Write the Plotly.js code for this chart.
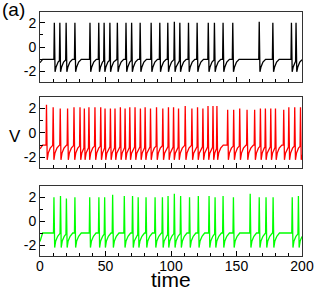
<!DOCTYPE html>
<html>
<head>
<meta charset="utf-8">
<script src="https://cdn.plot.ly/plotly-3.0.1.min.js"></script>
<style>html,body{margin:0;padding:0;background:#fff;}#chart{width:315px;height:291px;}</style>
</head>
<body>
<div id="chart"></div>
<script>
// ---- data ----
const xTickVals = [0, 50, 100, 150, 200];
const xTickText = ["0", "50", "100", "150", "200"];
const yTickVals = [-2, 0, 2];
const yTickText = ["-2", "0", "2"];

// spike onset times (time units) and spike peak values (V)
const blackSpikes = [10.8, 15, 19.8, 26.5, 38, 44.7, 48.8, 53.2, 58.9, 65.5, 69.8, 76.3, 84.7, 91.3, 97.4, 102.4, 106.6, 113.2, 119.8, 128.3, 133, 139.6, 147, 167.2, 177.6, 191.8, 195.3];
const blackPeaks  = [2.0, 2.0, 2.0, 2.0, 2.0, 2.0, 2.0, 2.0, 2.0, 2.0, 2.0, 2.0, 2.0, 2.0, 2.0, 2.1, 2.0, 2.0, 2.0, 2.0, 2.0, 2.0, 2.0, 2.1, 2.0, 2.0, 2.0];

const redSpikes = [4.8, 9.9, 15.3, 20.9, 25.8, 30.4, 33.7, 37.2, 41.8, 46.2, 49.5, 53.6, 57.1, 61.2, 64.8, 68.4, 72.4, 76.5, 80.1, 84.2, 88.8, 93.6, 97.9, 101.8, 105.6, 110.7, 115.8, 120.1, 124.2, 128.1, 131.9, 134.9, 143.1, 147.7, 152.3, 157.9, 163.7, 168.1, 171.9, 176, 179.6, 185.9, 189.8, 194.3, 198.7];
const redPeaks  = [2.3, 2.1, 2.0, 2.0, 2.1, 2.1, 2.0, 2.1, 2.1, 2.1, 2.0, 2.0, 2.0, 2.1, 2.0, 2.1, 2.1, 2.0, 2.1, 2.0, 2.1, 2.0, 2.1, 2.1, 2.0, 2.2, 2.0, 2.1, 2.0, 2.2, 2.2, 2.2, 1.9, 1.9, 2.0, 1.9, 1.9, 2.0, 2.0, 2.0, 2.0, 1.9, 2.1, 2.1, 2.1];

const greenSpikes = [10.5, 15.5, 20, 26.5, 37.8, 44.8, 49.2, 55.3, 64.2, 70.5, 74.8, 80.8, 87.7, 93.3, 97.6, 102.4, 107.2, 114, 120.7, 128.9, 133.5, 139.6, 147.5, 160.3, 167.2, 172.4, 177.8, 192.4, 197.1];
const greenPeaks  = [2.0, 2.1, 1.9, 2.0, 2.0, 2.0, 2.0, 2.2, 2.1, 2.1, 2.0, 2.0, 2.0, 2.0, 2.1, 2.3, 2.1, 2.0, 2.1, 2.1, 2.0, 2.1, 2.0, 2.3, 2.0, 2.0, 2.0, 2.0, 2.1];

// baseline, trough and start values per series
const blackLevels = {start: -1.3, base: -1.02, trough: -2.05};
const redLevels   = {start: -1.3, base: -1.0,  trough: -2.2};
const greenLevels = {start: -1.7, base: -0.98, trough: -2.2};

// ---- build polyline of each trace from spike times ----
function buildTrace(spikes, peaks, lv) {
  const rec = [[0.7, lv.trough], [1.5, -1.65], [3.0, -1.25], [5.0, lv.base]];
  function recAt(dt) {
    if (dt <= rec[0][0]) return rec[0][1];
    for (let k = 1; k < rec.length; k++) {
      if (dt <= rec[k][0]) {
        const f = (dt - rec[k-1][0]) / (rec[k][0] - rec[k-1][0]);
        return rec[k-1][1] + f * (rec[k][1] - rec[k-1][1]);
      }
    }
    return lv.base;
  }
  const xs = [0], ys = [lv.start];
  if (spikes[0] > 2.5) { xs.push(2); ys.push(lv.base); }
  for (let i = 0; i < spikes.length; i++) {
    const ts = spikes[i];
    const nxt = i + 1 < spikes.length ? spikes[i+1] : 200.2;
    const pre = i === 0 ? (spikes[0] > 2.5 ? lv.base : lv.start + 0.4) : recAt(ts - 0.2 - spikes[i-1]);
    xs.push(ts - 0.2); ys.push(pre);
    xs.push(ts + 0.15); ys.push(peaks[i]);
    xs.push(ts + 0.7); ys.push(lv.trough);
    for (const dt of [1.5, 3.0, 5.0]) {
      if (ts + dt < nxt - 0.2 && ts + dt <= 200) { xs.push(ts + dt); ys.push(recAt(dt)); }
    }
    if (i === spikes.length - 1) { xs.push(200); ys.push(recAt(200 - ts)); }
  }
  return {xs, ys};
}

const b = buildTrace(blackSpikes, blackPeaks, blackLevels);
const r = buildTrace(redSpikes, redPeaks, redLevels);
const g = buildTrace(greenSpikes, greenPeaks, greenLevels);

const traces = [
  {x: b.xs, y: b.ys, xaxis: 'x', yaxis: 'y', type: 'scatter', mode: 'lines', line: {color: '#000000', width: 1.3}, hoverinfo: 'skip'},
  {x: r.xs, y: r.ys, xaxis: 'x2', yaxis: 'y2', type: 'scatter', mode: 'lines', line: {color: '#ff0000', width: 1.3}, hoverinfo: 'skip'},
  {x: g.xs, y: g.ys, xaxis: 'x3', yaxis: 'y3', type: 'scatter', mode: 'lines', line: {color: '#00ff00', width: 1.3}, hoverinfo: 'skip'}
];

const FONT = 'Liberation Sans, Arial, Helvetica, sans-serif';
function xAx(anchor, labels) {
  return {
    anchor: anchor, domain: [0, 1], range: [0, 200],
    tickmode: 'array', tickvals: xTickVals, ticktext: xTickText,
    showticklabels: labels, ticklabelstandoff: -3,
    ticks: 'inside', ticklen: 5, tickwidth: 1, tickcolor: '#000',
    minor: {tickmode: 'linear', tick0: 0, dtick: 10, ticks: 'inside', ticklen: 3, tickwidth: 1, tickcolor: '#000'},
    showline: true, mirror: true, linecolor: '#333', linewidth: 1,
    showgrid: false, zeroline: false,
    tickfont: {family: FONT, size: 14, color: '#000'}
  };
}
function yAx(anchor, domain) {
  return {
    anchor: anchor, domain: domain, range: [-2.9, 2.9],
    tickmode: 'array', tickvals: yTickVals, ticktext: yTickText,
    ticks: 'inside', ticklen: 5, tickwidth: 1, tickcolor: '#000',
    minor: {tickmode: 'linear', tick0: 0, dtick: 1, ticks: 'inside', ticklen: 3, tickwidth: 1, tickcolor: '#000'},
    showline: true, mirror: true, linecolor: '#333', linewidth: 1,
    showgrid: false, zeroline: false,
    tickfont: {family: FONT, size: 14, color: '#000'}
  };
}

const layout = {
  width: 315, height: 291,
  margin: {l: 40, r: 13, t: 12, b: 35, pad: 0},
  paper_bgcolor: '#fff', plot_bgcolor: '#fff',
  showlegend: false,
  font: {family: FONT, color: '#000'},
  xaxis: xAx('y', false),
  xaxis2: xAx('y2', false),
  xaxis3: xAx('y3', true),
  yaxis: yAx('x', [0.713, 1]),
  yaxis2: yAx('x2', [0.359, 0.650]),
  yaxis3: yAx('x3', [0, 0.285]),
  annotations: [
    {text: 'time', xref: 'paper', yref: 'paper', x: 0.5, y: -0.095, xanchor: 'center', yanchor: 'middle', showarrow: false, font: {family: FONT, size: 21, color: '#000'}},
    {text: 'V', xref: 'paper', yref: 'paper', x: -0.095, y: 0.49, xanchor: 'center', yanchor: 'middle', showarrow: false, font: {family: FONT, size: 17, color: '#000'}},
    {text: '(a)', xref: 'paper', yref: 'paper', x: -0.1, y: 1.01, xanchor: 'center', yanchor: 'middle', showarrow: false, font: {family: FONT, size: 19, color: '#000'}}
  ]
};

Plotly.newPlot('chart', traces, layout, {staticPlot: true, displayModeBar: false});
</script>
</body>
</html>
